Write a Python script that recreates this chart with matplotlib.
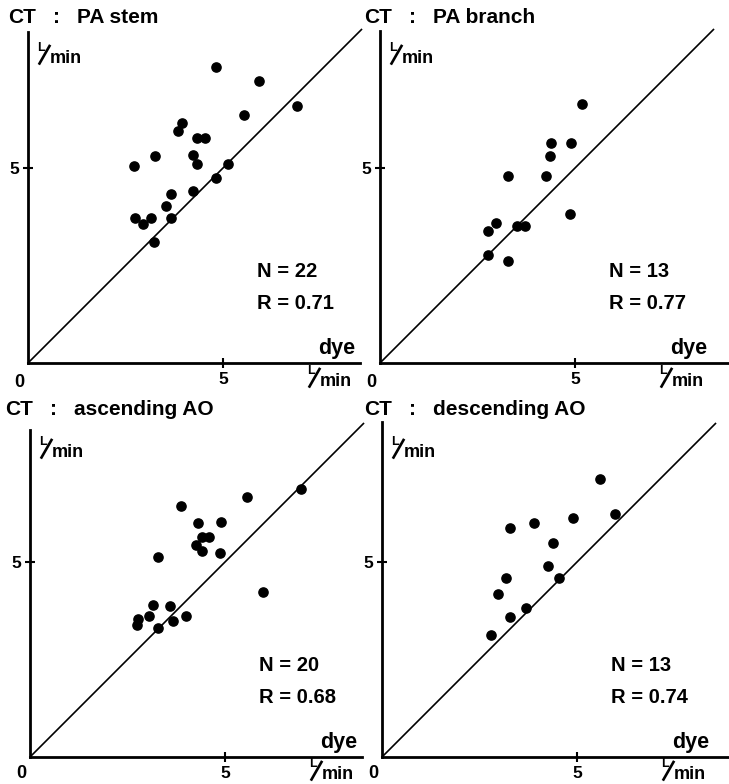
import matplotlib
matplotlib.use("Agg")
import matplotlib.pyplot as plt
from matplotlib.lines import Line2D

plt.rcParams['font.family'] = ['Liberation Sans', 'DejaVu Sans']
plt.rcParams['font.weight'] = 'bold'

# dye (x) vs CT (y), L/min
stem_dye = [4.83, 5.93, 6.91, 5.55, 3.94, 3.84, 4.34, 4.55, 3.26, 4.24, 4.34,
            2.71, 5.14, 4.83, 4.22, 3.66, 3.54, 2.75, 2.94, 3.16, 3.66, 3.24]
stem_ct = [7.60, 7.24, 6.58, 6.36, 6.16, 5.95, 5.78, 5.78, 5.32, 5.34, 5.11,
           5.04, 5.11, 4.74, 4.42, 4.33, 4.03, 3.72, 3.56, 3.72, 3.72, 3.09]

branch_dye = [5.17, 4.39, 4.89, 4.36, 3.28, 4.25, 4.88, 2.98, 2.77, 3.52, 3.73, 2.76, 3.29]
branch_ct = [6.63, 5.64, 5.64, 5.31, 4.80, 4.80, 3.83, 3.60, 3.38, 3.50, 3.50, 2.78, 2.61]

asc_dye = [6.96, 5.57, 3.87, 4.31, 4.89, 4.40, 4.59, 4.25, 4.40, 4.86,
           3.29, 5.97, 3.15, 3.60, 3.05, 2.78, 2.75, 3.66, 3.99, 3.27]
asc_ct = [6.87, 6.66, 6.43, 6.01, 6.03, 5.63, 5.63, 5.43, 5.28, 5.24,
          5.12, 4.22, 3.91, 3.86, 3.62, 3.55, 3.38, 3.50, 3.61, 3.30]

desc_dye = [5.60, 5.97, 4.89, 3.90, 3.28, 4.38, 4.25, 3.18, 4.55, 2.97, 3.69, 3.28, 2.79]
desc_ct = [7.14, 6.22, 6.12, 6.01, 5.86, 5.50, 4.91, 4.59, 4.59, 4.19, 3.83, 3.60, 3.13]

sites = ["PA stem", "PA branch", "ascending AO", "descending AO"]
n_labels = ["N = 22", "N = 13", "N = 20", "N = 13"]
r_labels = ["R = 0.71", "R = 0.77", "R = 0.68", "R = 0.74"]
xs = [stem_dye, branch_dye, asc_dye, desc_dye]
ys = [stem_ct, branch_ct, asc_ct, desc_ct]

W, H = 729, 784
S = 39.0  # px per L/min
# origin x, origin y, x end, y top, title x, title baseline (image pixels)
layout = [(28, 363, 360, 32, 8, 23),
          (380, 363, 728, 31, 364, 23),
          (30, 757, 362, 430, 5, 415),
          (382, 757, 728, 422, 364, 415)]

fig = plt.figure(figsize=(W / 100, H / 100), dpi=100)


def put(x, y, s, **kw):
    fig.text(x / W, 1 - y / H, s, va='baseline', **kw)


def lmin(x, b):
    # "L/min" unit written as a fraction, left edge x, baseline b of "min"
    put(x, b - 12, "L", fontsize=9, ha='left')
    fig.add_artist(Line2D([(x + 2.5) / W, (x + 12.5) / W],
                          [1 - (b + 0.5) / H, 1 - (b - 17) / H],
                          color='black', lw=1.9))
    put(x + 13, b, "min", fontsize=13, ha='left')


for i in range(4):
    ox, oy, xe, yt, tx, tb = layout[i]
    ax = fig.add_axes([ox / W, 1 - oy / H, (xe - ox) / W, (oy - yt) / H])
    ax.set_xlim(0, (xe - ox) / S)
    ax.set_ylim(0, (oy - yt) / S)
    for sp in ['top', 'right']:
        ax.spines[sp].set_visible(False)
    for sp in ['left', 'bottom']:
        ax.spines[sp].set_linewidth(2.0)
    ax.set_xticks([5])
    ax.set_yticks([5])
    ax.tick_params(direction='inout', length=7, width=1.5, labelsize=12.5, pad=3)
    ax.plot([0, 8.55], [0, 8.55], color='black', lw=1.2, clip_on=False)
    ax.scatter(xs[i], ys[i], s=44, color='black', zorder=3, clip_on=False)

    put(tx, tb, "CT", fontsize=15, ha='left')
    put(tx + 45, tb, ":", fontsize=15, ha='left')
    put(tx + 69, tb, sites[i], fontsize=15, ha='left')
    put(ox - 9, min(oy + 24, 778), "0", fontsize=13, ha='center')
    put(ox + 327, oy - 9, "dye", fontsize=15.5, ha='right')
    lmin(ox + 279, min(oy + 23, 779))
    lmin(ox + 9, oy - 300)
    put(ox + 229, oy - 86, n_labels[i], fontsize=14.5, ha='left')
    put(ox + 229, oy - 54, r_labels[i], fontsize=14.5, ha='left')

fig.savefig("out.png", dpi=100)
